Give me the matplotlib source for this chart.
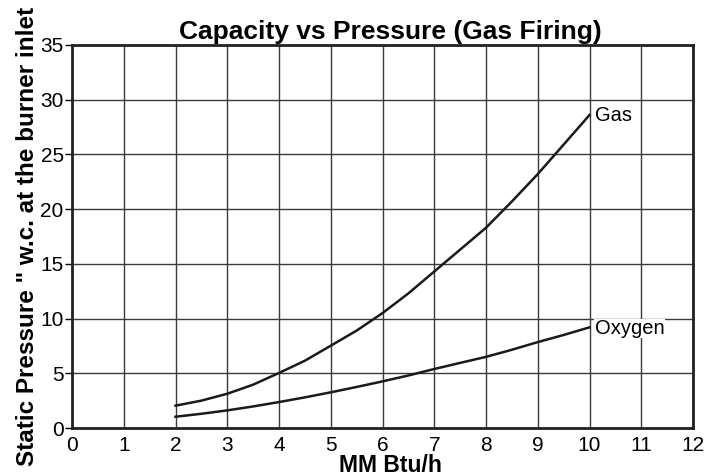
import matplotlib
matplotlib.use("Agg")
import matplotlib.pyplot as plt

plt.rcParams["font.family"] = ["Liberation Sans", "DejaVu Sans"]

# capacity (MM Btu/h) and static pressure ("w.c.)
capacity = [2, 2.5, 3, 3.5, 4, 4.5, 5, 5.5, 6, 6.5, 7, 7.5, 8, 8.5, 9, 9.5, 10]
gas_pressure = [2.04, 2.5, 3.13, 3.96, 5.03, 6.15, 7.52, 8.9, 10.5, 12.3,
                14.3, 16.3, 18.3, 20.7, 23.2, 25.9, 28.6]
oxygen_pressure = [1.03, 1.3, 1.61, 1.97, 2.37, 2.8, 3.26, 3.75, 4.26, 4.8,
                   5.39, 5.95, 6.5, 7.15, 7.85, 8.5, 9.2]

x_ticks = list(range(0, 13))
y_ticks = list(range(0, 36, 5))

fig = plt.figure(figsize=(7.07, 4.76), dpi=100)
ax = fig.add_axes([72 / 707, 48 / 476, 621 / 707, 383 / 476])

ax.plot(capacity, gas_pressure, color="#1a1a1a", lw=1.8, zorder=3)
ax.plot(capacity, oxygen_pressure, color="#1a1a1a", lw=1.8, zorder=3)

ax.text(10.1, 28.6, "Gas", fontsize=14.5, va="center", ha="left", zorder=4)
ax.text(10.1, 9.1, "Oxygen", fontsize=14.5, va="center", ha="left", zorder=4,
        bbox=dict(facecolor="white", edgecolor="none", pad=0.3))

ax.set_xlim(0, 12)
ax.set_ylim(0, 35)
ax.set_xticks(x_ticks)
ax.set_yticks(y_ticks)
ax.grid(True, color="#3a3a3a", lw=1.0)
ax.set_axisbelow(True)
for s in ax.spines.values():
    s.set_linewidth(2.0)
    s.set_color("#222222")
ax.tick_params(axis="x", length=0, labelsize=15, pad=6)
ax.tick_params(axis="y", length=5, width=1.0, direction="out", labelsize=15, pad=1)

ax.set_title("Capacity vs Pressure (Gas Firing)", fontsize=19, fontweight="bold",
             pad=4, x=0.513)
ax.set_xlabel("MM Btu/h", fontsize=16.5, fontweight="bold")
ax.xaxis.set_label_coords(0.5125, -0.068)
ax.set_ylabel("Static Pressure \" w.c. at the burner inlet", fontsize=17.5,
              fontweight="bold", labelpad=1)

fig.savefig("out.png", dpi=100, facecolor="white")
